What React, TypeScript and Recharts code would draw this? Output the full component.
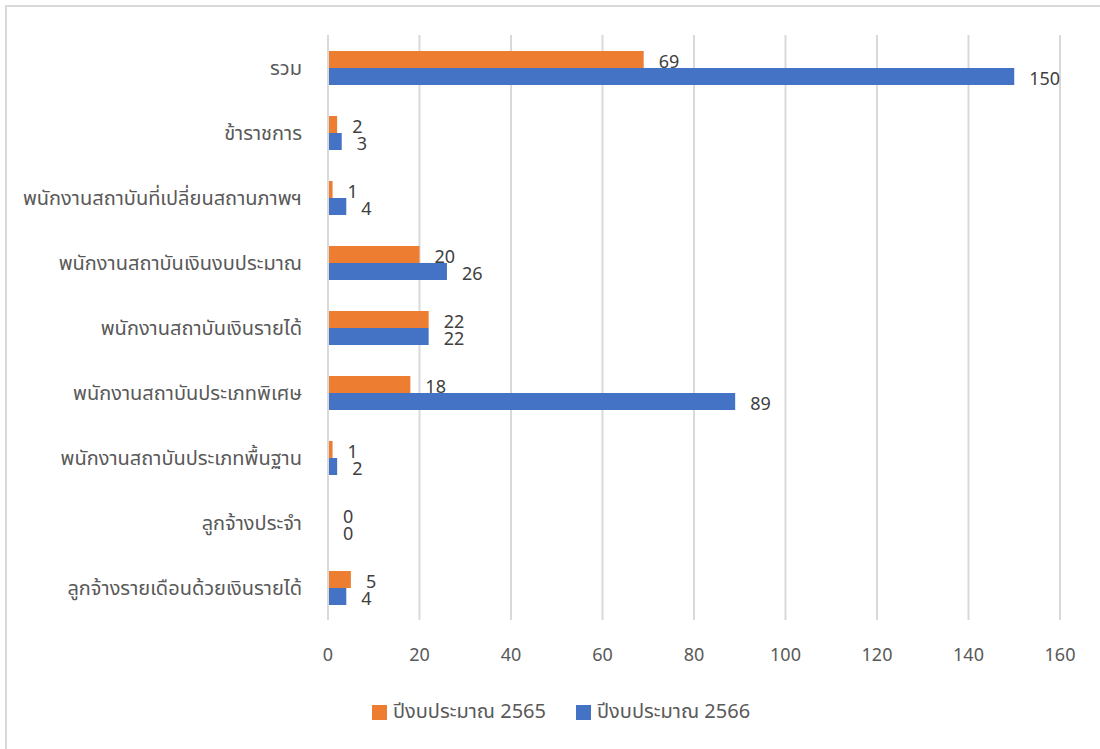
import { BarChart, Bar, XAxis, YAxis, CartesianGrid, LabelList } from 'recharts'

const categories = [
  'รวม',
  'ข้าราชการ',
  'พนักงานสถาบันที่เปลี่ยนสถานภาพฯ',
  'พนักงานสถาบันเงินงบประมาณ',
  'พนักงานสถาบันเงินรายได้',
  'พนักงานสถาบันประเภทพิเศษ',
  'พนักงานสถาบันประเภทพื้นฐาน',
  'ลูกจ้างประจำ',
  'ลูกจ้างรายเดือนด้วยเงินรายได้',
]
const year2565 = [69, 2, 1, 20, 22, 18, 1, 0, 5]
const year2566 = [150, 3, 4, 26, 22, 89, 2, 0, 4]
const xTicks = [0, 20, 40, 60, 80, 100, 120, 140, 160]

const SERIES = [
  { key: 'y2565', name: 'ปีงบประมาณ 2565', color: '#ED7D31' },
  { key: 'y2566', name: 'ปีงบประมาณ 2566', color: '#4472C4' },
]

const FONT = "'Noto Sans Thai', 'Leelawadee UI', Tahoma, 'Noto Sans', sans-serif"

const data = categories.map((name, i) => ({ name, y2565: year2565[i], y2566: year2566[i] }))

// label a little right of the bar end, like Excel's outside-end labels
// eslint-disable-next-line @typescript-eslint/no-explicit-any
function ValueLabel(props: any) {
  const { x, y, width, height, value } = props
  return (
    <text
      x={x + (width || 0) + 15}
      y={y + height / 2 + 3}
      dominantBaseline="middle"
      fill="#404040"
      fontSize={18}
      fontFamily={FONT}
    >
      {value}
    </text>
  )
}

export default function App() {
  return (
    <div style={{ position: 'absolute', left: 0, top: 0, width: 1100, height: 749, background: '#fff', overflow: 'hidden', fontFamily: FONT }}>
      <div
        style={{
          position: 'absolute',
          left: 5,
          top: 5,
          width: 1200,
          height: 800,
          borderLeft: '2px solid #D9D9D9',
          borderTop: '2px solid #D9D9D9',
        }}
      />
      <div style={{ position: 'absolute', left: 0, top: 0 }}>
        <BarChart
          width={1100}
          height={749}
          data={data}
          layout="vertical"
          margin={{ top: 35, right: 40, bottom: 0, left: 0 }}
          barSize={17}
          barGap={0}
        >
          <CartesianGrid horizontal={false} stroke="#D9D9D9" strokeWidth={2} />
          <XAxis
            type="number"
            domain={[0, 160]}
            ticks={xTicks}
            interval={0}
            axisLine={false}
            tickLine={false}
            tickMargin={22}
            height={129}
            tick={{ fontSize: 18, fill: '#595959', fontFamily: FONT }}
          />
          <YAxis
            type="category"
            dataKey="name"
            width={328}
            interval={0}
            axisLine={{ stroke: '#D9D9D9', strokeWidth: 2 }}
            tickLine={false}
            tickMargin={20}
            tick={{ fontSize: 20, fill: '#595959', fontFamily: FONT }}
          />
          {SERIES.map((s) => (
            <Bar
              key={s.key}
              dataKey={s.key}
              name={s.name}
              fill={s.color}
              minPointSize={0.01}
              isAnimationActive={false}
            >
              <LabelList dataKey={s.key} content={<ValueLabel />} />
            </Bar>
          ))}
        </BarChart>
      </div>
      <div
        style={{
          position: 'absolute',
          top: 699,
          left: 0,
          width: 1122,
          display: 'flex',
          justifyContent: 'center',
          gap: 30,
          fontSize: 20,
          color: '#595959',
          lineHeight: '26px',
        }}
      >
        {SERIES.map((s) => (
          <div key={s.key} style={{ display: 'flex', alignItems: 'center' }}>
            <span style={{ display: 'inline-block', width: 15, height: 15, background: s.color, marginRight: 6 }} />
            <span>{s.name}</span>
          </div>
        ))}
      </div>
    </div>
  )
}
